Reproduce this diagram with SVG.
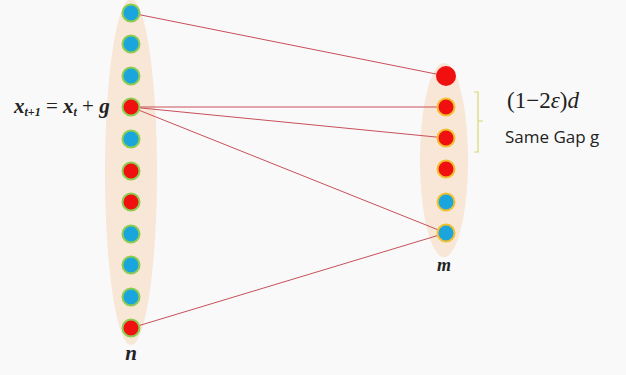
<svg xmlns="http://www.w3.org/2000/svg" width="626" height="375" viewBox="0 0 626 375">
<style>
.bg{fill:#f9f9f9}
.grp{fill:#f8e6d6}
.edge{stroke:#c8505a;stroke-width:1;fill:none}
.bl{fill:#1aa6dc;stroke:#8ccc50;stroke-width:2}
.rd{fill:#f01010;stroke:#8ccc50;stroke-width:2}
.rbl{fill:#1aa6dc;stroke:#f0c030;stroke-width:2}
.rrd{fill:#f01010;stroke:#f0c030;stroke-width:2}
.math{font-family:"Liberation Serif",serif;font-style:italic;font-weight:bold;fill:#222}
.sans{font-family:"Open Sans","Liberation Sans",sans-serif;fill:#222}
</style>
<rect class="bg" x="0" y="0" width="626" height="375"/>
<g id="left-group"><ellipse class="grp" cx="131" cy="172" rx="26" ry="173"/></g>
<g id="right-group"><ellipse class="grp" cx="444" cy="160" rx="24" ry="97"/></g>
<g id="connectors">
<line class="edge" x1="131" y1="13" x2="446" y2="76"/>
<line class="edge" x1="131" y1="107" x2="446" y2="107"/>
<line class="edge" x1="131" y1="107" x2="446" y2="138"/>
<line class="edge" x1="131" y1="107" x2="446" y2="233"/>
<line class="edge" x1="131" y1="328" x2="446" y2="233"/>
</g>
<g id="L1"><circle class="bl" cx="131" cy="13" r="8.5"/></g>
<g id="L2"><circle class="bl" cx="131" cy="44" r="8.5"/></g>
<g id="L3"><circle class="bl" cx="131" cy="76" r="8.5"/></g>
<g id="L4"><circle class="rd" cx="131" cy="107" r="8.5"/></g>
<g id="L5"><circle class="bl" cx="131" cy="139" r="8.5"/></g>
<g id="L6"><circle class="rd" cx="131" cy="171" r="8.5"/></g>
<g id="L7"><circle class="rd" cx="131" cy="202" r="8.5"/></g>
<g id="L8"><circle class="bl" cx="131" cy="234" r="8.5"/></g>
<g id="L9"><circle class="bl" cx="131" cy="265" r="8.5"/></g>
<g id="L10"><circle class="bl" cx="131" cy="297" r="8.5"/></g>
<g id="L11"><circle class="rd" cx="131" cy="328" r="8.5"/></g>
<g id="R1"><circle cx="446" cy="76" r="10" fill="#f01010"/></g>
<g id="R2"><circle class="rrd" cx="446" cy="107" r="8.5"/></g>
<g id="R3"><circle class="rrd" cx="446" cy="138" r="8.5"/></g>
<g id="R4"><circle class="rrd" cx="446" cy="169" r="8.5"/></g>
<g id="R5"><circle class="rbl" cx="446" cy="202" r="8.5"/></g>
<g id="R6"><circle class="rbl" cx="446" cy="233" r="8.5"/></g>
<g id="bracket"><path d="M474 92 H478 V152 H474 M478 121 H483" fill="none" stroke="#d8d870" stroke-width="1.2"/></g>
<g id="labels">
<text class="math" x="14" y="113" font-size="21">x<tspan font-size="12" dy="3">t+1</tspan><tspan dy="-3" font-style="normal" font-weight="normal"> = </tspan>x<tspan font-size="12" dy="3">t</tspan><tspan dy="-3" font-style="normal" font-weight="normal"> + </tspan>g</text>
<text class="math" x="131" y="360" font-size="21" text-anchor="middle">n</text>
<text class="math" x="444" y="271" font-size="18" text-anchor="middle">m</text>
<text x="507" y="108" font-size="23" font-family="Liberation Serif,serif" fill="#222">(1−2<tspan font-style="italic">ε</tspan>)<tspan font-style="italic">d</tspan></text>
<text class="sans" x="505" y="143" font-size="17">Same Gap g</text>
</g>
</svg>
